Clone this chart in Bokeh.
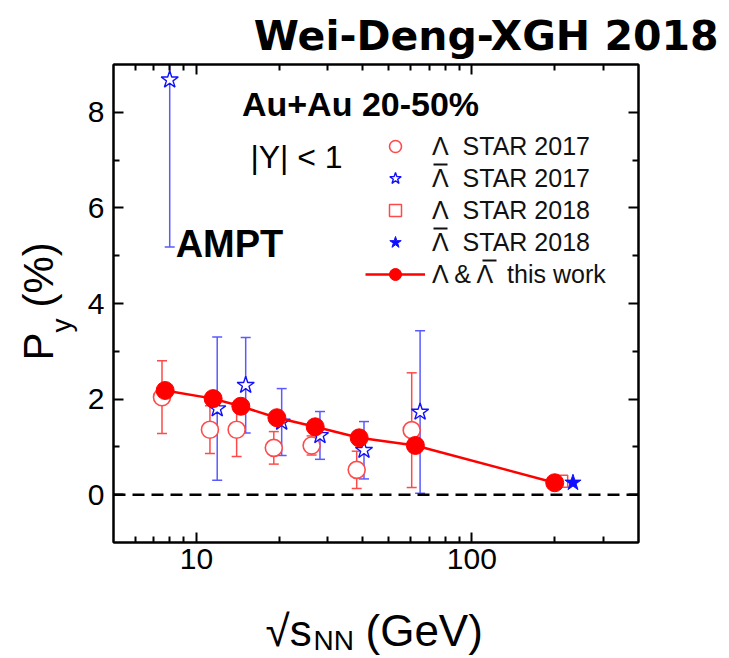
import numpy as np
from bokeh.plotting import figure
from bokeh.layouts import column, row
from bokeh.models import (Range1d, LogAxis, LinearAxis, FixedTicker, CustomJSTickFormatter,
                          NumeralTickFormatter, Span, Label, Legend, LegendItem, BoxAnnotation)
from bokeh.embed import file_html
from bokeh.resources import INLINE

# ---------------- data ----------------
ampt_x = [7.7, 11.5, 14.5, 19.6, 27.0, 39.0, 62.4, 200.0]
ampt_y = [2.18, 2.01, 1.85, 1.61, 1.42, 1.19, 1.03, 0.25]

lam17_x = [7.5, 11.2, 14.0, 19.1, 26.2, 38.2, 60.5]
lam17_y = [2.04, 1.36, 1.36, 0.98, 1.03, 0.52, 1.35]
lam17_err = [0.76, 0.50, 0.56, 0.34, 0.20, 0.39, 1.20]

alam17_x = [8.0, 11.9, 15.1, 20.4, 28.1, 40.6, 64.9]
alam17_y = [8.68, 1.80, 2.29, 1.52, 1.24, 0.93, 1.73]
alam17_err = [3.50, 1.50, 1.00, 0.70, 0.50, 0.60, 1.70]

lam18_x = [212.0]
lam18_y = [0.28]
lam18_err = [0.04]

alam18_x = [233.0]
alam18_y = [0.25]
alam18_err = [0.05]

x_major = [10, 100]
x_minor = [6, 7, 8, 9, 20, 30, 40, 50, 60, 70, 80, 90, 200, 300]
y_major = [0, 2, 4, 6, 8]
y_minor = [1, 3, 5, 7]

# ---------------- layout (page pixels) ----------------
YL_W = 80                 # width of the y-label strip
MAIN_W, MAIN_H = 647, 590
XL_H = 66
FL, FR, FT, FB = 113, 638, 64, 542   # frame edges on the page

RED = "#ff0000"
RED_L = "#ff4a4a"
BLUE = "#1010ff"
BLUE_L = "#5a5aff"
FONT = "Liberation Sans"
SHIFT = 0.35              # baseline correction (fraction of font size)

p = figure(width=MAIN_W, height=MAIN_H, x_axis_type="log",
           x_range=Range1d(5, 403), y_range=Range1d(-1, 9),
           output_backend="svg", toolbar_location=None,
           min_border_left=FL - YL_W, min_border_right=YL_W + MAIN_W - FR,
           min_border_top=FT, min_border_bottom=MAIN_H - FB,
           background_fill_color="white", border_fill_color="white")
p.grid.visible = False
p.outline_line_color = "black"
p.outline_line_width = 2

p.title.text = "Wei-Deng-XGH 2018"
p.title.align = "right"
p.title.offset = -80
p.title.standoff = 10
p.title.text_font = "DejaVu Sans"
p.title.text_font_style = "bold"
p.title.text_font_size = "41px"
p.title.text_color = "black"


def style(ax, labels=True):
    ax.axis_line_width = 2
    ax.axis_line_color = "black"
    ax.major_tick_in = 10
    ax.major_tick_out = 0
    ax.minor_tick_in = 6
    ax.minor_tick_out = 0
    ax.major_tick_line_width = 2
    ax.minor_tick_line_width = 2
    ax.major_label_text_font = FONT
    ax.major_label_text_font_size = "30px"
    ax.major_label_text_color = "black"
    if not labels:
        ax.formatter = CustomJSTickFormatter(code="return ''")
        ax.major_label_standoff = 0


p.xaxis.ticker = FixedTicker(ticks=x_major, minor_ticks=x_minor)
p.yaxis.ticker = FixedTicker(ticks=y_major, minor_ticks=y_minor)
p.xaxis.formatter = NumeralTickFormatter(format="0")
style(p.xaxis[0])
style(p.yaxis[0])
p.xaxis.major_label_standoff = 6
p.yaxis.major_label_standoff = 9

top = LogAxis(ticker=FixedTicker(ticks=x_major, minor_ticks=x_minor))
style(top, labels=False)
p.add_layout(top, "above")
right = LinearAxis(ticker=FixedTicker(ticks=y_major, minor_ticks=y_minor))
style(right, labels=False)
p.add_layout(right, "right")

# zero line
p.add_layout(Span(location=0, dimension="width", line_color="black",
                  line_width=2.5, line_dash="12 7"))


def errbars(x, y, e, color):
    x = np.array(x); y = np.array(y); e = np.array(e)
    p.segment(x0=x, y0=y - e, x1=x, y1=y + e, line_color=color, line_width=1.5)
    p.scatter(np.concatenate([x, x]), np.concatenate([y - e, y + e]),
              marker="dash", size=10, line_color=color, line_width=1.5)


errbars(lam17_x, lam17_y, lam17_err, RED_L)
errbars(alam17_x, alam17_y, alam17_err, BLUE_L)

r_c17 = p.scatter(lam17_x, lam17_y, marker="circle", size=17, fill_color="white",
                  line_color=RED_L, line_width=1.6)
r_s17 = p.scatter(alam17_x, alam17_y, marker="star", size=18, fill_color="white",
                  line_color=BLUE, line_width=1.4)
r_sq18 = p.scatter(lam18_x, lam18_y, marker="square", size=12, fill_color="white",
                   line_color=RED_L, line_width=1.5)
r_line = p.line(ampt_x, ampt_y, line_color=RED, line_width=2.5)
r_dot = p.scatter(ampt_x, ampt_y, marker="circle", size=18, fill_color=RED,
                  line_color=RED)
r_st18 = p.scatter(alam18_x, alam18_y, marker="star", size=17, fill_color=BLUE,
                   line_color=BLUE)

legend = Legend(items=[
    LegendItem(label="\u039b\u00a0\u00a0STAR 2017", renderers=[r_c17]),
    LegendItem(label="\u039b\u00a0\u00a0STAR 2017", renderers=[r_s17]),
    LegendItem(label="\u039b\u00a0\u00a0STAR 2018", renderers=[r_sq18]),
    LegendItem(label="\u039b\u00a0\u00a0STAR 2018", renderers=[r_st18]),
    LegendItem(label="\u039b & \u039b\u00a0\u00a0this work", renderers=[r_line, r_dot]),
], location=(252, 253), glyph_width=60, glyph_height=30, label_height=30,
    spacing=2, padding=0, margin=0, label_standoff=7,
    border_line_alpha=0, background_fill_alpha=0,
    label_text_font=FONT, label_text_font_size="25px", label_text_color="#111111")
p.add_layout(legend)

# overbars of the anti-lambda symbols in the legend (page pixels: left, right, y)
for bl, br, by in [(433, 447, 164), (433, 447, 228), (482, 496, 260)]:
    p.add_layout(BoxAnnotation(left=bl - FL, right=br - FL, bottom=FB - by - 1,
                               top=FB - by + 1, left_units="screen", right_units="screen",
                               top_units="screen", bottom_units="screen",
                               fill_color="#111111", fill_alpha=1.0, line_alpha=0))


def add_label(fig, text, x, y, size, ox, oy, bold=False, font=FONT, align="left",
              rotated=False):
    """x, y: page position of the text anchor (baseline); ox, oy: page position of the
    frame's bottom-left corner of fig."""
    s = SHIFT * size
    if rotated:
        sx, sy = (x - s) - ox, oy - y
    else:
        sx, sy = x - ox, oy - (y - s)
    fig.add_layout(Label(x=sx, y=sy, x_units="screen", y_units="screen",
                         text=text, text_font=font, text_font_size=f"{size}px",
                         text_font_style="bold" if bold else "normal",
                         text_align=align, text_baseline="alphabetic",
                         angle=np.pi / 2 if rotated else 0.0, text_color="black"))


add_label(p, "Au+Au 20-50%", 360, 115, 34, FL, FB, bold=True, align="center")
add_label(p, "|Y| < 1", 296, 168, 32, FL, FB, align="center")
add_label(p, "AMPT", 229, 257, 38, FL, FB, bold=True, align="center")

# ---------------- y-axis label strip (frame aligned with the main frame) ----------------
yl = figure(width=YL_W, height=MAIN_H, output_backend="svg", toolbar_location=None,
            x_range=Range1d(0, 1), y_range=Range1d(0, 1),
            min_border_left=0, min_border_right=0,
            min_border_top=FT, min_border_bottom=MAIN_H - FB,
            x_axis_location=None, y_axis_location=None,
            outline_line_color=None, background_fill_color="white",
            border_fill_color="white")
yl.grid.visible = False
add_label(yl, "P", 53, 360, 42, 0, FB, rotated=True)
add_label(yl, "y", 71, 332, 28, 0, FB, rotated=True)
add_label(yl, "(%)", 53, 307, 42, 0, FB, rotated=True)

# ---------------- x-axis label strip ----------------
xl = figure(width=YL_W + MAIN_W, height=XL_H, output_backend="svg", toolbar_location=None,
            x_range=Range1d(0, 1), y_range=Range1d(0, 1),
            min_border=0, x_axis_location=None, y_axis_location=None,
            outline_line_color=None, background_fill_color="white",
            border_fill_color="white")
xl.grid.visible = False
XO, XB = 0, MAIN_H + XL_H
add_label(xl, "\u221as", 265, 645, 44, XO, XB)
add_label(xl, "NN", 313, 650, 28, XO, XB)
add_label(xl, "(GeV)", 365, 645, 44, XO, XB)

layout = column(row(yl, p, spacing=0), xl, spacing=0)
open("out.html", "w").write(file_html(layout, INLINE))
